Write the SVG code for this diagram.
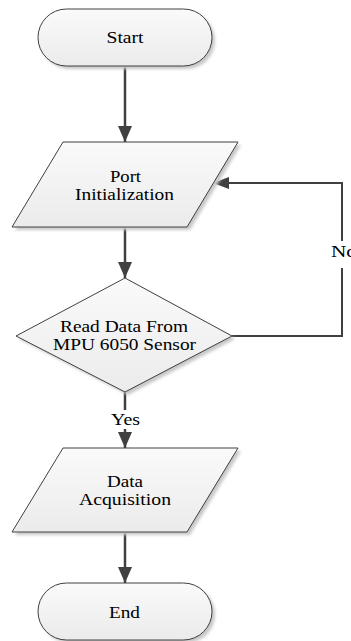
<svg xmlns="http://www.w3.org/2000/svg" width="351" height="641" viewBox="0 0 351 641">
<defs>
<linearGradient id="g" x1="0" y1="0" x2="0" y2="1">
<stop offset="0" stop-color="#fafafa"/>
<stop offset="1" stop-color="#ebebeb"/>
</linearGradient>
<filter id="sh" x="-10%" y="-10%" width="130%" height="130%">
<feGaussianBlur stdDeviation="1.5"/>
</filter>
<marker id="ah" viewBox="0 0 16 14" refX="16" refY="7" markerWidth="16" markerHeight="14" markerUnits="userSpaceOnUse" orient="auto">
<path d="M0,0 L16,7 L0,14 Z" fill="#404040"/>
</marker>
<marker id="ah2" viewBox="0 0 16 12" refX="16" refY="6" markerWidth="16" markerHeight="12" markerUnits="userSpaceOnUse" orient="auto">
<path d="M0,0 L16,6 L0,12 Z" fill="#404040"/>
</marker>
</defs>
<style>
.shape{fill:url(#g);stroke:#404040;stroke-width:1}
.shadow{fill:#c8c8c8;filter:url(#sh)}
.t{font-size:17px;fill:#000;text-anchor:middle}
.c{fill:none;stroke:#404040;stroke-width:2.5}
.c2{fill:none;stroke:#404040;stroke-width:2}
</style>
<rect width="351" height="641" fill="#fff"/>
<g id="connectors" font-family="'Liberation Serif', 'DejaVu Serif', serif">
<line class="c" x1="125" y1="66" x2="125" y2="142" marker-end="url(#ah)"/>
<line class="c" x1="125" y1="227" x2="125" y2="278" marker-end="url(#ah)"/>
<polyline class="c2" points="232,336 342,336 342,183 213,183" marker-end="url(#ah2)"/>
<rect x="329" y="241" width="22" height="27" fill="#fff"/>
<text class="t" x="331" y="257" style="text-anchor:start" textLength="26" lengthAdjust="spacingAndGlyphs">No</text>
<line class="c" x1="125" y1="392" x2="125" y2="410"/>
<text class="t" x="125.5" y="425" textLength="29" lengthAdjust="spacingAndGlyphs">Yes</text>
<line class="c" x1="125" y1="429" x2="125" y2="448" marker-end="url(#ah)"/>
<line class="c" x1="125" y1="532" x2="125" y2="583" marker-end="url(#ah)"/>
</g>
<g id="start" font-family="'Liberation Serif', 'DejaVu Serif', serif">
<rect class="shadow" x="41" y="12" width="174" height="57" rx="28.5"/>
<rect class="shape" x="38" y="9" width="174" height="57" rx="28.5"/>
<text class="t" x="125" y="43" textLength="37" lengthAdjust="spacingAndGlyphs">Start</text>
</g>
<g id="port" font-family="'Liberation Serif', 'DejaVu Serif', serif">
<polygon class="shadow" points="66,145 241,145 190,230 15,230"/>
<polygon class="shape" points="63,142 238,142 187,227 12,227"/>
<text class="t" x="125.5" y="182" textLength="31" lengthAdjust="spacingAndGlyphs">Port</text>
<text class="t" x="124.5" y="200" textLength="99" lengthAdjust="spacingAndGlyphs">Initialization</text>
</g>
<g id="read" font-family="'Liberation Serif', 'DejaVu Serif', serif">
<polygon class="shadow" points="128,281 235,339 128,395 19,339"/>
<polygon class="shape" points="125,278 232,336 125,392 16,336"/>
<text class="t" x="124" y="332" textLength="128" lengthAdjust="spacingAndGlyphs">Read Data From</text>
<text class="t" x="124.5" y="350" textLength="143" lengthAdjust="spacingAndGlyphs">MPU 6050 Sensor</text>
</g>
<g id="data" font-family="'Liberation Serif', 'DejaVu Serif', serif">
<polygon class="shadow" points="66,451 241,451 190,535 15,535"/>
<polygon class="shape" points="63,448 238,448 187,532 12,532"/>
<text class="t" x="125" y="487" textLength="36" lengthAdjust="spacingAndGlyphs">Data</text>
<text class="t" x="125" y="505" textLength="92" lengthAdjust="spacingAndGlyphs">Acquisition</text>
</g>
<g id="end" font-family="'Liberation Serif', 'DejaVu Serif', serif">
<rect class="shadow" x="41" y="586" width="174" height="57" rx="28.5"/>
<rect class="shape" x="38" y="583" width="174" height="57" rx="28.5"/>
<text class="t" x="124.5" y="618" textLength="31" lengthAdjust="spacingAndGlyphs">End</text>
</g>
</svg>
